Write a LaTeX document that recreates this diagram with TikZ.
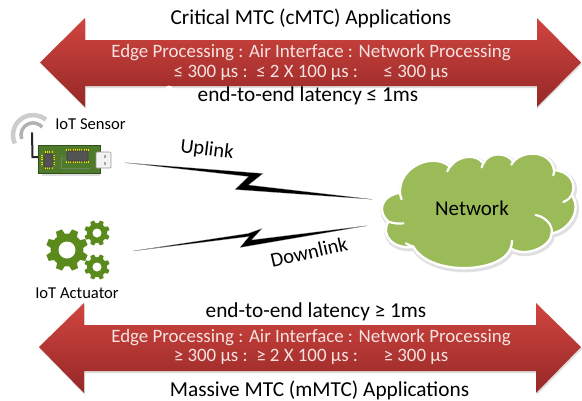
\documentclass[tikz,border=0pt]{standalone}
\usepackage{fontspec}
\setmainfont{Carlito}
\usetikzlibrary{calc}
\definecolor{arrowTop}{HTML}{D0453F}
\definecolor{arrowBot}{HTML}{962827}
\definecolor{boxText}{HTML}{F6E3E1}
\definecolor{cloudGreen}{HTML}{9BBB59}
\definecolor{gearGreen}{HTML}{5A8A1C}
\definecolor{pcb}{HTML}{4F7A2C}
\definecolor{pcbDark}{HTML}{2F4F1C}
\tikzset{
  title/.style={font=\fontsize{21.3}{24}\selectfont,text=black,inner sep=0pt},
  inarrow/.style={font=\fontsize{18.9}{19.8}\selectfont,text=boxText,align=center,inner sep=0pt},
  devlabel/.style={font=\fontsize{16.6}{18}\selectfont,text=black,inner sep=0pt},
  linklabel/.style={font=\fontsize{20.5}{22}\selectfont,text=black,inner sep=0pt},
  redarrow/.style={top color=arrowTop,bottom color=arrowBot,draw=none},
  arrowshadow/.style={fill=black,opacity=.13},
  bolt/.style={fill=black,draw=gray!70,line width=.2pt},
}
\newcommand{\gearshape}[4]{% x, y, outer radius, hole radius
  \fill[gearGreen] (#1,#2) circle[radius=#3*.78];
  \foreach \a in {0,45,...,315}{
    \fill[gearGreen,rotate around={\a+22.5:(#1,#2)}]
      ($(#1,#2)+(-.21*#3,-.7*#3)$) -- ($(#1,#2)+(-.15*#3,-#3)$) -- ($(#1,#2)+(.15*#3,-#3)$) -- ($(#1,#2)+(.21*#3,-.7*#3)$) -- cycle;
  }
  \fill[white] (#1,#2) circle[radius=#4];
}
\begin{document}
\begin{tikzpicture}[x=1pt,y=-1pt]
\useasboundingbox (0,0) rectangle (582,400);
% top arrow
\fill[arrowshadow] (41,64) -- (86,20) -- (86,42) -- (537,42) -- (537,20) -- (582,64) -- (537,109) -- (537,88) -- (86,88) -- (86,109) -- cycle;
\shade[redarrow] (40,62.5) -- (85,18) -- (85,40) -- (537,40) -- (537,18) -- (581,62.5) -- (537,107) -- (537,86) -- (85,86) -- (85,107) -- cycle;
\fill[white] (169,89) circle[radius=3.5];
% bottom arrow
\fill[arrowshadow] (40,349) -- (85,305) -- (85,327) -- (537,327) -- (537,305) -- (582,349) -- (537,395) -- (537,373) -- (85,373) -- (85,395) -- cycle;
\shade[redarrow] (39,347) -- (84,303) -- (84,325) -- (536,325) -- (536,303) -- (581,347) -- (536,393) -- (536,371) -- (84,371) -- (84,393) -- cycle;
% texts
\node[title] (ctitle) at (311,18) {Critical MTC (cMTC) Applications};
\node[inarrow] (cbox) at (311,62.5) {Edge Processing : Air Interface : Network Processing\\≤ 300 µs :~~≤ 2 X 100 µs :~~~~~~≤ 300 µs};
\node[title] (clat) at (308,96) {end-to-end latency ≤ 1ms};
\node[title] (mlat) at (316,312) {end-to-end latency ≥ 1ms};
\node[inarrow] (mbox) at (311,347) {Edge Processing : Air Interface : Network Processing\\≥ 300 µs :~~≥ 2 X 100 µs :~~~~~~≥ 300 µs};
\node[title] (mtitle) at (319.5,390) {Massive MTC (mMTC) Applications};
% sensor
\draw[gray!40,line width=4.5pt] (14.9,143.5) arc[start angle=-205,end angle=-50,radius=20];
\draw[gray!60,line width=3.5pt] (21.7,139) arc[start angle=-200,end angle=-40,radius=12];
\draw[black!85,line width=2pt,line cap=round] (32,133) -- (32.5,157) -- (39,157);
\fill[gray!25] (42,172) rectangle (100,176);
\fill[pcb,draw=pcbDark,line width=.6pt] (38,145) rectangle (100,173);
\fill[gray!10,draw=gray!80,line width=.7pt,rounded corners=1pt] (96,152) rectangle (111,168);
\fill[gray!70] (104,155) rectangle (106,158);
\fill[gray!70] (104,162) rectangle (106,165);
\draw[yellow!80!orange,line width=2.3pt,dash pattern=on .6pt off 1.6pt] (66,150) -- (89,150) (66,162) -- (89,162) (45,152) -- (52,152) (45,168) -- (52,168) (42,155) -- (42,166) (54,155) -- (54,166);
\fill[gray!65!black,draw=black!75,line width=.6pt,rounded corners=.7pt] (67,151) rectangle (88,161);
\fill[gray!65!black,draw=black!75,line width=.6pt,rounded corners=.7pt] (44,154) rectangle (53,167);
\draw[pcbDark!70!white,line width=.4pt] (61,155) -- (61,168) -- (90,168) (61,158) -- (66,158);
\node[devlabel] (sensor) at (90.5,124) {IoT Sensor};
% actuator
\gearshape{67}{250}{21}{8.5}
\gearshape{97}{233}{12.7}{4.5}
\gearshape{97}{267}{12.7}{4.5}
\node[devlabel] (actuator) at (77,293) {IoT Actuator};
% lightning bolts
\coordinate (upStart) at (125,162.7);
\coordinate (upEnd) at (372,199.3);
\coordinate (downStart) at (133,251);
\coordinate (downEnd) at (367,225.7);
\fill[bolt] (upStart) -- (263,173.5) -- (248.5,185) -- (upEnd) -- (235,189.5) -- (248.5,176.5) -- cycle;
\fill[bolt] (downStart) -- (248,233.5) -- (262,228.5) -- (251.5,240) -- (downEnd) -- (240,247.5) -- (249,236.5) -- cycle;
\node[linklabel,rotate=-7] (uplink) at (207,150) {Uplink};
\node[linklabel,rotate=13] (downlink) at (309,252) {Downlink};
% cloud
\begin{scope}[shift={(370,150)},x=.3333pt,y=-.3333pt]
\def\cloudpath{(55,215) .. controls (25,190) and (25,140) .. (90,128)
  .. controls (85,50) and (190,5) .. (240,50)
  .. controls (265,15) and (320,10) .. (340,40)
  .. controls (355,5) and (410,5) .. (430,35)
  .. controls (465,-5) and (545,5) .. (552,60)
  .. controls (605,65) and (620,105) .. (605,135)
  .. controls (640,185) and (590,245) .. (545,250)
  .. controls (545,290) and (465,325) .. (422,295)
  .. controls (395,370) and (180,380) .. (130,290)
  .. controls (70,300) and (30,255) .. (55,215) -- cycle}
\draw[black,opacity=.12,line width=5pt,shift={(3,5)}] \cloudpath;
\fill[cloudGreen,draw=white,line width=2.4pt,line join=round] \cloudpath;
\draw[white,line width=2.2pt,line cap=round]
  (55,215) .. controls (70,220) and (85,222) .. (100,220)
  (90,128) .. controls (90,135) and (92,140) .. (95,148)
  (240,50) .. controls (236,55) and (233,60) .. (232,64)
  (340,40) .. controls (337,45) and (336,50) .. (335,52)
  (430,35) .. controls (427,38) and (425,40) .. (424,44)
  (552,60) .. controls (552,65) and (552,70) .. (550,76)
  (605,135) .. controls (600,145) and (590,152) .. (580,156)
  (497,195) .. controls (525,200) and (550,225) .. (545,250)
  (422,295) .. controls (425,285) and (426,280) .. (426,272)
  (130,290) .. controls (122,288) and (115,284) .. (108,280);
\node[font=\fontsize{21}{24}\selectfont,text=black,inner sep=0pt] (network) at (306,175) {Network};
\end{scope}
\end{tikzpicture}
\end{document}
